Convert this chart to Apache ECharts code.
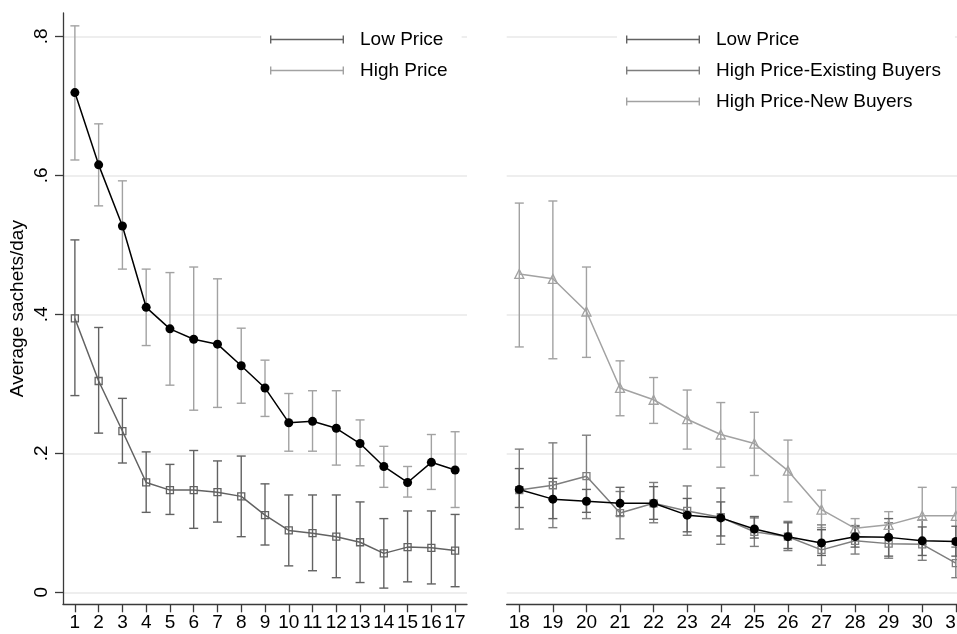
<!DOCTYPE html>
<html>
<head>
<meta charset="utf-8">
<script src="https://cdn.jsdelivr.net/npm/echarts@6/dist/echarts.min.js"></script>
<style>
html,body{margin:0;padding:0;background:#fff;}
#chart{width:957px;height:634px;}
</style>
</head>
<body>
<div id="chart"></div>
<script>
// ---- data ----
const leftDays = [1,2,3,4,5,6,7,8,9,10,11,12,13,14,15,16,17];
const leftCircleMean = [0.719,0.615,0.527,0.410,0.379,0.364,0.357,0.326,0.294,0.244,0.246,0.236,0.214,0.181,0.158,0.187,0.176];
const leftCircleHi   = [0.815,0.674,0.592,0.465,0.460,0.468,0.451,0.380,0.334,0.286,0.290,0.290,0.248,0.210,0.181,0.227,0.231];
const leftCircleLo   = [0.622,0.556,0.465,0.355,0.298,0.262,0.266,0.272,0.253,0.203,0.203,0.183,0.182,0.151,0.137,0.148,0.122];
const leftSquareMean = [0.394,0.304,0.232,0.158,0.147,0.147,0.144,0.138,0.111,0.089,0.085,0.080,0.072,0.056,0.065,0.064,0.060];
const leftSquareHi   = [0.507,0.381,0.279,0.202,0.184,0.204,0.189,0.196,0.156,0.140,0.140,0.140,0.130,0.106,0.117,0.117,0.112];
const leftSquareLo   = [0.283,0.229,0.186,0.115,0.112,0.092,0.101,0.080,0.068,0.038,0.031,0.021,0.014,0.006,0.015,0.012,0.008];

const rightDays = [18,19,20,21,22,23,24,25,26,27,28,29,30,31];
const lowMean = [0.148,0.134,0.131,0.128,0.128,0.111,0.107,0.091,0.080,0.071,0.080,0.079,0.074,0.073];
const lowHi   = [0.178,0.164,0.148,0.151,0.152,0.135,0.130,0.109,0.100,0.090,0.095,0.106,0.094,0.095];
const lowLo   = [0.122,0.106,0.115,0.110,0.105,0.087,0.081,0.078,0.063,0.053,0.065,0.052,0.053,0.052];
const existMean = [0.147,0.154,0.167,0.114,0.128,0.117,0.108,0.087,0.080,0.061,0.074,0.070,0.069,0.042];
const existHi   = [0.206,0.215,0.226,0.145,0.158,0.153,0.150,0.107,0.102,0.097,0.096,0.100,0.104,0.065];
const existLo   = [0.091,0.093,0.106,0.077,0.100,0.082,0.069,0.066,0.060,0.039,0.055,0.049,0.046,0.021];
const newMean = [0.458,0.451,0.404,0.294,0.277,0.249,0.227,0.214,0.175,0.119,0.092,0.097,0.110,0.110];
const newHi   = [0.560,0.563,0.468,0.333,0.309,0.291,0.273,0.259,0.219,0.147,0.106,0.116,0.151,0.151];
const newLo   = [0.353,0.336,0.338,0.254,0.243,0.206,0.180,0.168,0.130,0.093,0.078,0.078,0.069,0.069];

const yTicks = [0, 0.2, 0.4, 0.6, 0.8];
const yTickLabels = ['0', '.2', '.4', '.6', '.8'];
const yAxisTitle = 'Average sachets/day';
const leftLegend = ['Low Price', 'High Price'];
const rightLegend = ['Low Price', 'High Price-Existing Buyers', 'High Price-New Buyers'];

// ---- styles ----
const C_DARK = '#626262', C_MID = '#7e7e7e', C_LIGHT = '#a2a2a2', C_GRID = '#e8e8e8', C_AXIS = '#3a3a3a';
const FONT = 'Liberation Sans, Arial, Helvetica, sans-serif';
const LEG_ICON = 'path://M0,0h1.4v3.3h71.2v-3.3h1.4v8h-1.4v-3.3h-71.2v3.3h-1.4z';

function zip3(x, lo, hi){ return x.map((v,i)=>[v, lo[i], hi[i]]); }
function zip2(x, y){ return x.map((v,i)=>[v, y[i]]); }

function errBars(name, idx, color, x, lo, hi){
  return {
    type:'custom', name:name, xAxisIndex:idx, yAxisIndex:idx, z:2, silent:true,
    itemStyle:{color:color},
    encode:{x:0, y:[1,2]},
    data: zip3(x, lo, hi),
    renderItem: function(params, api){
      const xv = api.value(0);
      const p1 = api.coord([xv, api.value(2)]);
      const p2 = api.coord([xv, api.value(1)]);
      const hw = 4.5;
      const st = {stroke:color, lineWidth:1.4};
      return {type:'group', children:[
        {type:'line', shape:{x1:p1[0], y1:p1[1], x2:p2[0], y2:p2[1]}, style:st},
        {type:'line', shape:{x1:p1[0]-hw, y1:p1[1], x2:p1[0]+hw, y2:p1[1]}, style:st},
        {type:'line', shape:{x1:p2[0]-hw, y1:p2[1], x2:p2[0]+hw, y2:p2[1]}, style:st}
      ]};
    }
  };
}

function lineSeries(name, idx, x, y, color, symbol, size, filled){
  return {
    type:'line', name:name, xAxisIndex:idx, yAxisIndex:idx, z:3, silent:true,
    data: zip2(x, y), symbol:symbol, symbolSize:size, showSymbol:true, showAllSymbol:true,
    lineStyle:{color:color, width:1.5},
    itemStyle: filled ? {color:color} : {color:'rgba(0,0,0,0)', borderColor:color, borderWidth:1.3},
    emphasis:{disabled:true}
  };
}

const yMin = -0.0173, yMax = 0.8335;
function yAxisDef(idx, showAxis){
  return {
    type:'value', gridIndex:idx, min:yMin, max:yMax,
    name: showAxis ? yAxisTitle : '',
    nameLocation:'middle', nameGap:36,
    nameTextStyle:{fontSize:19, color:'#000', fontFamily:FONT},
    axisLine:{show:showAxis, lineStyle:{color:C_AXIS, width:1.3}},
    axisTick:{show:showAxis, length:8, customValues:yTicks, lineStyle:{color:C_AXIS, width:1.3}},
    axisLabel:{show:showAxis, customValues:yTicks, rotate:90, margin:12, fontSize:19, color:'#000', fontFamily:FONT,
      formatter: v => { const i = yTicks.findIndex(t => Math.abs(t - v) < 1e-6); return i >= 0 ? yTickLabels[i] : ''; }},
    splitLine:{show:true, lineStyle:{color:C_GRID, width:1.5}}
  };
}
function xAxisDef(idx, min, max, ticks){
  return {
    type:'value', gridIndex:idx, min:min, max:max,
    axisLine:{show:true, onZero:false, lineStyle:{color:C_AXIS, width:1.3}},
    axisTick:{show:true, length:8, customValues:ticks, lineStyle:{color:C_AXIS, width:1.3}},
    axisLabel:{customValues:ticks, margin:9, fontSize:19, color:'#000', fontFamily:FONT, hideOverlap:false},
    splitLine:{show:false}
  };
}

function legendDef(left, names, colors){
  return {
    orient:'vertical', left:left, top:27, backgroundColor:'#fff',
    padding:[3,14,3,9], itemWidth:74, itemHeight:8, itemGap:12,
    selectedMode:false,
    textStyle:{fontSize:19, lineHeight:18, color:'#000', fontFamily:FONT, padding:[0,0,0,11]},
    data: names.map((n,i)=>({name:n, icon:LEG_ICON, itemStyle:{color:colors[i]}}))
  };
}

const option = {
  animation:false,
  backgroundColor:'#fff',
  grid:[
    {left:63, top:13, width:404, bottom:29.7, outerBoundsMode:'none', containLabel:false},
    {left:506.7, top:13, right:0, bottom:29.7, outerBoundsMode:'none', containLabel:false}
  ],
  xAxis:[ xAxisDef(0, 0.5, 17.5, leftDays), xAxisDef(1, 17.625, 31.035, rightDays) ],
  yAxis:[ yAxisDef(0, true), yAxisDef(1, false) ],
  legend:[
    legendDef(261, leftLegend, [C_DARK, C_LIGHT]),
    legendDef(617, rightLegend, [C_DARK, C_MID, C_LIGHT])
  ],
  series:[
    errBars('High Price', 0, C_LIGHT, leftDays, leftCircleLo, leftCircleHi),
    errBars('Low Price', 0, C_DARK, leftDays, leftSquareLo, leftSquareHi),
    lineSeries('left-square', 0, leftDays, leftSquareMean, C_DARK, 'rect', 7, false),
    lineSeries('left-circle', 0, leftDays, leftCircleMean, '#000', 'circle', 9, true),
    errBars('High Price-New Buyers', 1, C_LIGHT, rightDays, newLo, newHi),
    errBars('High Price-Existing Buyers', 1, C_MID, rightDays, existLo, existHi),
    errBars('Low Price', 1, C_DARK, rightDays, lowLo, lowHi),
    lineSeries('right-new', 1, rightDays, newMean, C_LIGHT, 'triangle', 9, false),
    lineSeries('right-existing', 1, rightDays, existMean, C_MID, 'rect', 7, false),
    lineSeries('right-low', 1, rightDays, lowMean, '#000', 'circle', 9, true)
  ]
};

const chart = echarts.init(document.getElementById('chart'), null, {renderer:'canvas'});
chart.setOption(option);
</script>
</body>
</html>
